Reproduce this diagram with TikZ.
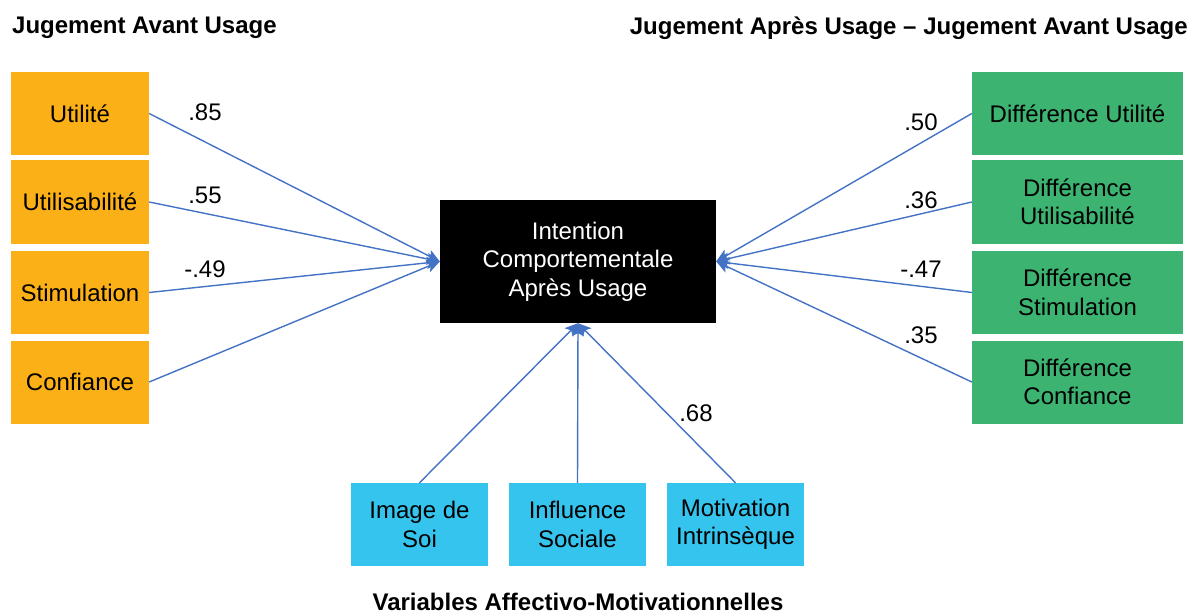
\documentclass[tikz,border=0pt]{standalone}
\usepackage{fontspec}
\setmainfont{Liberation Sans}
\usetikzlibrary{arrows.meta}
\definecolor{orangebox}{HTML}{FBB017}
\definecolor{greenbox}{HTML}{3CB371}
\definecolor{cyanbox}{HTML}{35C4EE}
\definecolor{linkblue}{HTML}{4472C4}
\tikzset{
  box/.style={draw=none, minimum width=138pt, minimum height=83pt, inner sep=0pt, align=center, font=\fontsize{24}{28.5}\selectfont},
  obox/.style={box, fill=orangebox},
  gbox/.style={box, fill=greenbox, minimum width=211pt},
  cbox/.style={box, fill=cyanbox, minimum width=137pt},
  link/.style={draw=linkblue, line width=1.4pt, -{Stealth[length=13pt,width=12pt,inset=3pt]}},
  coef/.style={font=\fontsize{24}{28}\selectfont, inner sep=0pt},
  title/.style={font=\bfseries\fontsize{24}{28}\selectfont, inner sep=0pt}
}
\begin{document}
\begin{tikzpicture}[x=1pt,y=-1pt]
\useasboundingbox (0,0) rectangle (1192,615);
% central
\node[box, fill=black, text=white, minimum width=276pt, minimum height=123pt] (c) at (578,261.5) {\raisebox{-3pt}{\parbox{270pt}{\centering Intention\\Comportementale\\Après Usage}}};
% left
\node[obox] (l1) at (80,113.5) {Utilité};
\node[obox] (l2) at (80,202) {Utilisabilité};
\node[obox] (l3) at (80,292.5) {Stimulation};
\node[obox] (l4) at (80,382) {Confiance};
% right
\node[gbox] (r1) at (1077.5,113.5) {Différence Utilité};
\node[gbox] (r2) at (1077.5,202) {Différence\\Utilisabilité};
\node[gbox] (r3) at (1077.5,292.5) {Différence\\Stimulation};
\node[gbox] (r4) at (1077.5,382) {Différence\\Confiance};
% bottom
\node[cbox] (b1) at (419.5,524.5) {Image de\\Soi};
\node[cbox] (b2) at (577.5,524.5) {Influence\\Sociale};
\node[cbox] (b3) at (735.5,524.5) {Motivation\\Intrinsèque};
% titles
\node[title, anchor=west] (t1) at (12,28) {Jugement Avant Usage};
\node[title, anchor=east] (t2) at (1188,28) {Jugement Après Usage – Jugement Avant Usage};
\node[title, anchor=base] (t3) at (578,610) {Variables Affectivo-Motivationnelles};
% links
\foreach \n in {l1,l2,l3,l4} \draw[link] (\n.east) -- (c.west);
\foreach \n in {r1,r2,r3,r4} \draw[link] (\n.west) -- (c.east);
\foreach \n in {b1,b2,b3} \draw[link] (\n.north) -- (c.south);
% coefficients
\node[coef] (k1) at (205,112) {.85};
\node[coef] (k2) at (205,195) {.55};
\node[coef] (k3) at (205,269) {-.49};
\node[coef] (k4) at (921,122) {.50};
\node[coef] (k5) at (921,200) {.36};
\node[coef] (k6) at (921,269) {-.47};
\node[coef] (k7) at (921,335) {.35};
\node[coef] (k8) at (696,413) {.68};
\end{tikzpicture}
\end{document}
